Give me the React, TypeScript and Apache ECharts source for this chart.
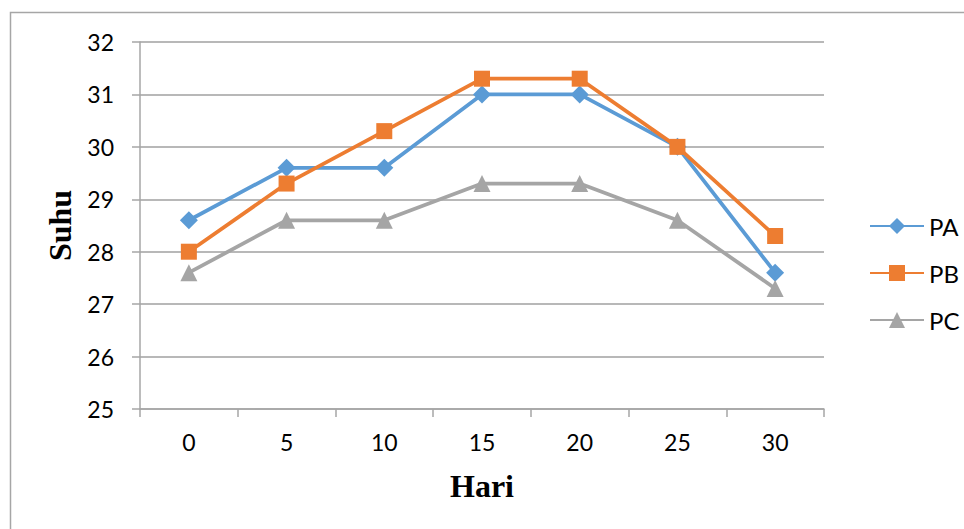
import React, { useEffect, useRef } from "react";
import * as echarts from "echarts";

const categories = ["0", "5", "10", "15", "20", "25", "30"];
const seriesNames = ["PA", "PB", "PC"];
const paValues = [28.6, 29.6, 29.6, 31, 31, 30, 27.6];
const pbValues = [28, 29.3, 30.3, 31.3, 31.3, 30, 28.3];
const pcValues = [27.6, 28.6, 28.6, 29.3, 29.3, 28.6, 27.3];
const yTicks = [25, 26, 27, 28, 29, 30, 31, 32];

export default function App() {
  const ref = useRef<HTMLDivElement>(null);
  useEffect(() => {
    document.body.style.margin = "0";
    const chart = echarts.init(ref.current!, undefined, { renderer: "svg" });
    const font = "Lato, 'Open Sans', sans-serif";
    chart.setOption({
      animation: false,
      backgroundColor: "#ffffff",
      graphic: [
        {
          type: "rect",
          shape: { x: 10.5, y: 12.5, width: 1000, height: 600 },
          style: { fill: "none", stroke: "#a6a6a6", lineWidth: 1.5 },
          silent: true,
        },
      ],
      grid: { left: 140, top: 42, right: 140, bottom: 120 },
      legend: {
        orient: "vertical",
        left: 864,
        top: 209,
        itemWidth: 54,
        itemHeight: 20,
        itemGap: 23,
        data: seriesNames,
        textStyle: { fontFamily: font, fontSize: 24, color: "#000" },
      },
      xAxis: {
        type: "category",
        data: categories,
        name: "Hari",
        nameLocation: "middle",
        nameGap: 61,
        nameTextStyle: { fontFamily: "'Liberation Serif', serif", fontWeight: "bold", fontSize: 32, color: "#000" },
        axisLine: { lineStyle: { color: "#a6a6a6", width: 1.5 } },
        axisTick: { show: true, length: 8, lineStyle: { color: "#a6a6a6", width: 1.5 } },
        axisLabel: { fontFamily: font, fontSize: 23, color: "#000", margin: 21 },
      },
      yAxis: {
        type: "value",
        min: yTicks[0],
        max: yTicks[yTicks.length - 1],
        interval: 1,
        name: "Suhu",
        nameLocation: "middle",
        nameGap: 63,
        nameTextStyle: { fontFamily: "'Liberation Serif', serif", fontWeight: "bold", fontSize: 32, color: "#000" },
        axisLine: { show: true, lineStyle: { color: "#a6a6a6", width: 1.5 } },
        axisTick: { show: true, length: 8, lineStyle: { color: "#a6a6a6", width: 1.5 } },
        axisLabel: { fontFamily: font, fontSize: 23, color: "#000", margin: 26 },
        splitLine: { lineStyle: { color: "#a0a0a0", width: 1.5 } },
      },
      series: [
        {
          name: "PA",
          type: "line",
          data: paValues,
          symbol: "diamond",
          symbolSize: 18,
          color: "#5b9bd5",
          lineStyle: { width: 3.75 },
        },
        {
          name: "PB",
          type: "line",
          data: pbValues,
          symbol: "rect",
          symbolSize: 16,
          color: "#ed7d31",
          lineStyle: { width: 3.75 },
        },
        {
          name: "PC",
          type: "line",
          data: pcValues,
          symbol: "triangle",
          symbolSize: 17,
          color: "#a5a5a5",
          lineStyle: { width: 3.75 },
        },
      ],
    });
    return () => chart.dispose();
  }, []);
  return <div ref={ref} style={{ width: 964, height: 529 }} />;
}
